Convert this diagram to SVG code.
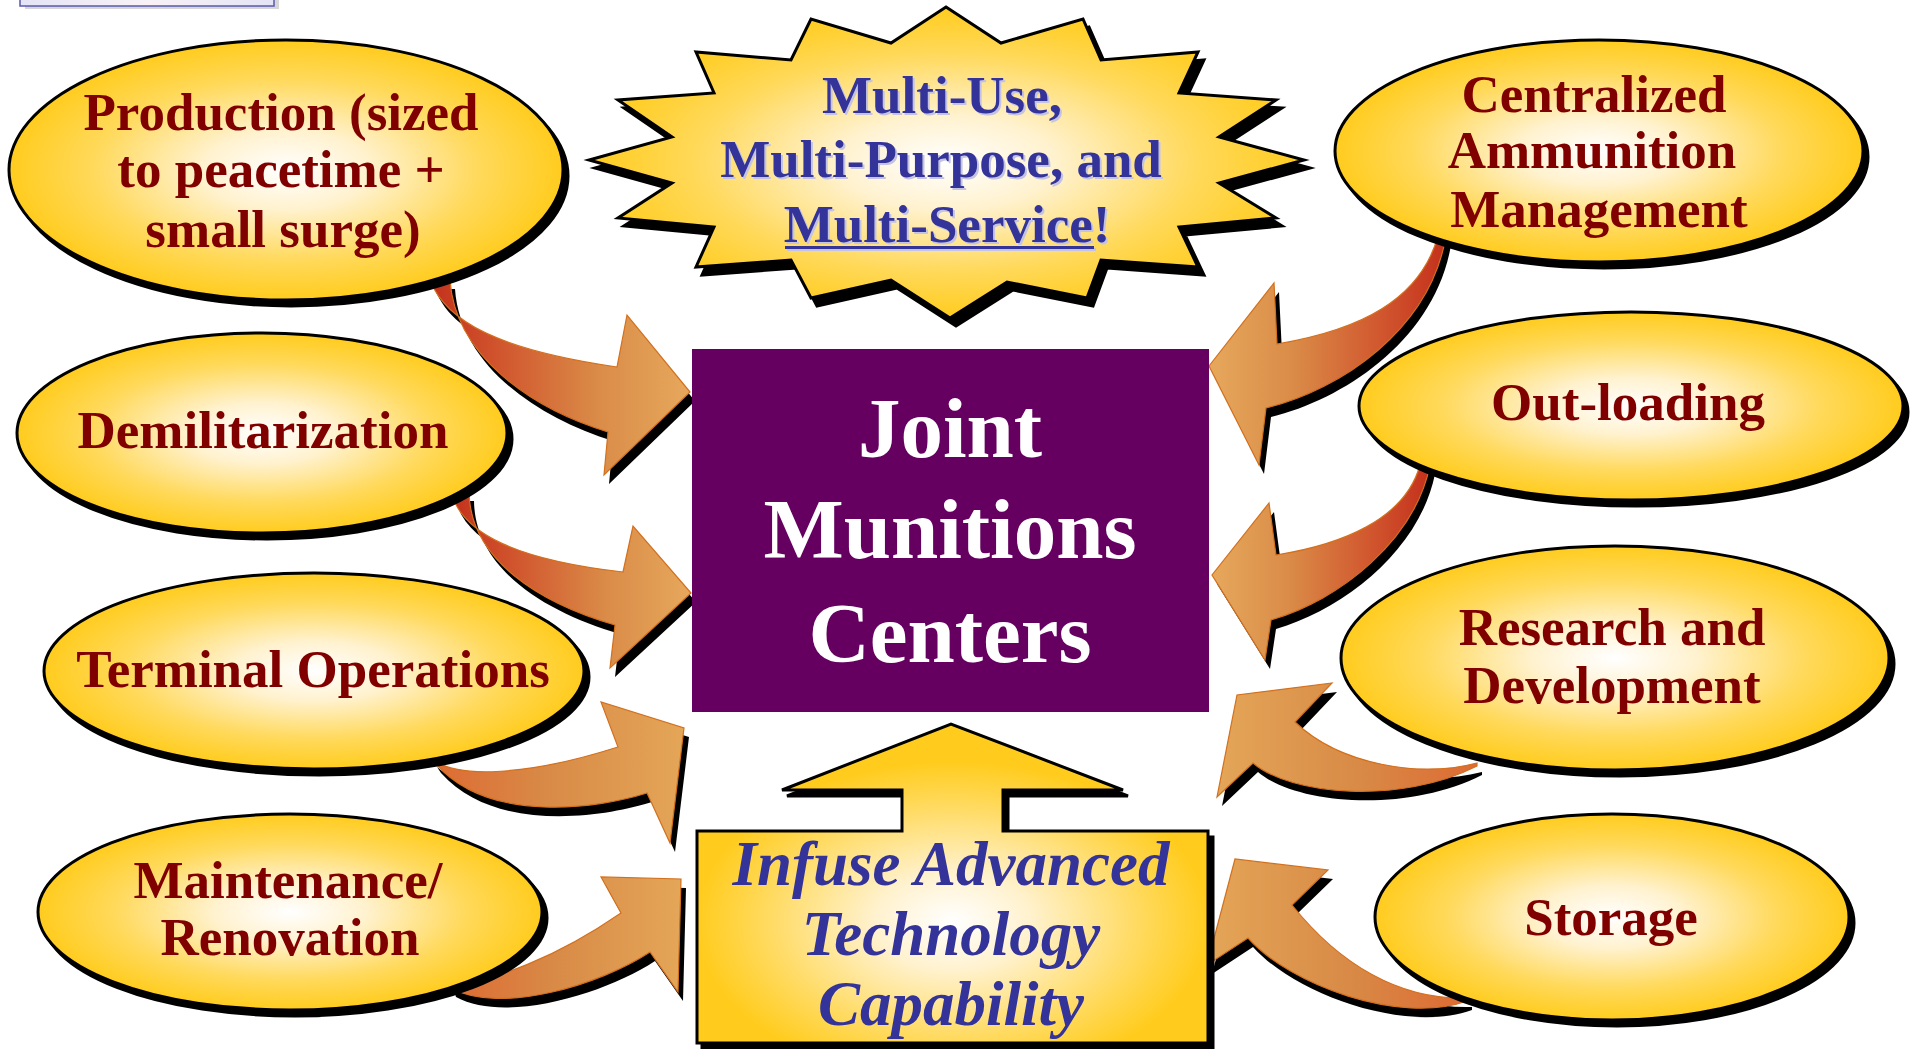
<svg xmlns="http://www.w3.org/2000/svg" xmlns:xlink="http://www.w3.org/1999/xlink" width="1911" height="1049" viewBox="0 0 1911 1049">
<style>
.t{font-family:"Liberation Serif","Times New Roman",serif;font-weight:bold;text-anchor:middle}
.lbl{font-size:53px;fill:#800000}
.st{font-size:53px;fill:#333399}
.stsh{font-size:53px;fill:#C4C4E2}
.jmc{font-size:85px;fill:#FFFFFF}
.inf{font-size:63px;font-style:italic;fill:#333399}
.ell{fill:url(#gEll);stroke:#000;stroke-width:3}
.sh{fill:#000;stroke:#000;stroke-width:3}
.ash{fill:#000}
.aL{fill:url(#gAL);stroke:#D2701E;stroke-width:1.2}
.aR{fill:url(#gAR);stroke:#D2701E;stroke-width:1.2}
.aL2{fill:url(#gAL2);stroke:#D2701E;stroke-width:1.2}
.aR2{fill:url(#gAR2);stroke:#D2701E;stroke-width:1.2}
</style>
<defs>
<radialGradient id="gEll" cx="0.5" cy="0.5" r="0.5">
<stop offset="0" stop-color="#FFFFFF"/>
<stop offset="0.3" stop-color="#FFF2CF"/>
<stop offset="0.7" stop-color="#FFD95A"/>
<stop offset="1" stop-color="#FFCC1E"/>
</radialGradient>
<radialGradient id="gInf" cx="0.5" cy="0.62" r="0.5">
<stop offset="0" stop-color="#FFFFFF"/>
<stop offset="0.3" stop-color="#FFF2CF"/>
<stop offset="0.75" stop-color="#FFD95A"/>
<stop offset="1" stop-color="#FFCC1E"/>
</radialGradient>
<linearGradient id="gAL" x1="0" y1="0" x2="1" y2="0">
<stop offset="0" stop-color="#C4301C"/>
<stop offset="0.3" stop-color="#D25A30"/>
<stop offset="0.65" stop-color="#DA8C48"/>
<stop offset="1" stop-color="#E6A85C"/>
</linearGradient>
<linearGradient id="gAR" x1="1" y1="0" x2="0" y2="0">
<stop offset="0" stop-color="#C4301C"/>
<stop offset="0.3" stop-color="#D25A30"/>
<stop offset="0.65" stop-color="#DA8C48"/>
<stop offset="1" stop-color="#E6A85C"/>
</linearGradient>
<linearGradient id="gAL2" x1="0" y1="0" x2="1" y2="0">
<stop offset="0" stop-color="#DE6A34"/>
<stop offset="0.45" stop-color="#D88A46"/>
<stop offset="1" stop-color="#E4A658"/>
</linearGradient>
<linearGradient id="gAR2" x1="1" y1="0" x2="0" y2="0">
<stop offset="0" stop-color="#DE6A34"/>
<stop offset="0.45" stop-color="#D88A46"/>
<stop offset="1" stop-color="#E4A658"/>
</linearGradient>
<linearGradient id="gStrip" x1="0" y1="0" x2="1" y2="0">
<stop offset="0" stop-color="#E4E4F6"/>
<stop offset="0.5" stop-color="#F8F2F6"/>
<stop offset="1" stop-color="#E4E4F6"/>
</linearGradient>
<path id="p1" d="M430,280 C446,322 500,350 617,367 L627,315 L690,392 L604,475 L608,432 C530,408 455,355 450,280 Z"/>
<path id="p2" d="M451,492 C462,535 520,560 623,572 L633,526 L691,593 L610,668 L615,625 C540,603 470,560 469,492 Z"/>
<path id="p3" d="M432,758 C455,780 530,775 618,747 L601,702 L684,728 L670,843 L647,793 C600,808 490,825 436,764 Z"/>
<path id="p4" d="M449,982 C490,985 560,955 621,913 L601,877 L681,879 L678,992 L650,952 C600,985 500,1015 451,988 Z"/>
<path id="p5" d="M1438,236 C1420,300 1360,330 1277,344 L1274,283 L1209,366 L1259,465 L1266,408 C1340,390 1430,330 1446,236 Z"/>
<path id="p6" d="M1420,465 C1405,520 1340,545 1276,555 L1269,503 L1212,575 L1265,660 L1271,620 C1340,600 1415,540 1430,465 Z"/>
<path id="p7" d="M1477,763 C1420,778 1340,765 1295,722 L1332,683 L1237,695 L1217,797 L1253,763 C1290,795 1400,805 1477,766 Z"/>
<path id="p8" d="M1467,998 C1400,1000 1340,965 1292,905 L1328,870 L1235,859 L1207,965 L1248,938 C1290,985 1400,1025 1467,1001 Z"/>
</defs>

<rect width="1911" height="1049" fill="#FFFFFF"/>

<g id="strip">
<rect x="25" y="-10" width="254" height="19" fill="#D6D6D6"/>
<rect x="20" y="-12" width="254" height="18" fill="url(#gStrip)" stroke="#5A5AB0" stroke-width="1.5"/>
</g>

<g id="connectors">
<g id="arrow-production">
<use xlink:href="#p1" class="ash" transform="translate(5,9)"/>
<use xlink:href="#p1" class="aL"/>
</g>
<g id="arrow-demil">
<use xlink:href="#p2" class="ash" transform="translate(5,9)"/>
<use xlink:href="#p2" class="aL"/>
</g>
<g id="arrow-terminal">
<use xlink:href="#p3" class="ash" transform="translate(5,9)"/>
<use xlink:href="#p3" class="aL2"/>
</g>
<g id="arrow-maintenance">
<use xlink:href="#p4" class="ash" transform="translate(5,9)"/>
<use xlink:href="#p4" class="aL2"/>
</g>
<g id="arrow-centralized">
<use xlink:href="#p5" class="ash" transform="translate(5,9)"/>
<use xlink:href="#p5" class="aR"/>
</g>
<g id="arrow-outloading">
<use xlink:href="#p6" class="ash" transform="translate(5,9)"/>
<use xlink:href="#p6" class="aR"/>
</g>
<g id="arrow-rnd">
<use xlink:href="#p7" class="ash" transform="translate(5,9)"/>
<use xlink:href="#p7" class="aR2"/>
</g>
<g id="arrow-storage">
<use xlink:href="#p8" class="ash" transform="translate(5,9)"/>
<use xlink:href="#p8" class="aR2"/>
</g>
</g>

<g id="node-production">
<ellipse class="sh" cx="291" cy="176" rx="277" ry="130"/>
<ellipse class="ell" cx="286" cy="170" rx="277" ry="130"/>
<text class="t lbl" x="281" y="130">Production (sized</text>
<text class="t lbl" x="281" y="187">to peacetime +</text>
<text class="t lbl" x="283" y="247">small surge)</text>
</g>

<g id="node-demilitarization">
<ellipse class="sh" cx="267" cy="439" rx="245" ry="100"/>
<ellipse class="ell" cx="262" cy="433" rx="245" ry="100"/>
<text class="t lbl" x="263" y="448">Demilitarization</text>
</g>

<g id="node-terminal">
<ellipse class="sh" cx="319" cy="677" rx="270" ry="98"/>
<ellipse class="ell" cx="314" cy="671" rx="270" ry="98"/>
<text class="t lbl" x="313" y="687">Terminal Operations</text>
</g>

<g id="node-maintenance">
<ellipse class="sh" cx="295" cy="918" rx="252" ry="98"/>
<ellipse class="ell" cx="290" cy="912" rx="252" ry="98"/>
<text class="t lbl" x="288" y="898">Maintenance/</text>
<text class="t lbl" x="290" y="955">Renovation</text>
</g>

<g id="node-centralized">
<ellipse class="sh" cx="1604" cy="157" rx="264" ry="111"/>
<ellipse class="ell" cx="1599" cy="151" rx="264" ry="111"/>
<text class="t lbl" x="1594" y="112">Centralized</text>
<text class="t lbl" x="1592" y="168">Ammunition</text>
<text class="t lbl" x="1599" y="227">Management</text>
</g>

<g id="node-outloading">
<ellipse class="sh" cx="1636" cy="412" rx="272" ry="94"/>
<ellipse class="ell" cx="1631" cy="406" rx="272" ry="94"/>
<text class="t lbl" x="1628" y="420">Out-loading</text>
</g>

<g id="node-rnd">
<ellipse class="sh" cx="1620" cy="664" rx="274" ry="112"/>
<ellipse class="ell" cx="1615" cy="658" rx="274" ry="112"/>
<text class="t lbl" x="1612" y="645">Research and</text>
<text class="t lbl" x="1612" y="703">Development</text>
</g>

<g id="node-storage">
<ellipse class="sh" cx="1617" cy="923" rx="237" ry="103"/>
<ellipse class="ell" cx="1612" cy="917" rx="237" ry="103"/>
<text class="t lbl" x="1611" y="935">Storage</text>
</g>

<g id="node-multi">
<polygon class="sh" transform="translate(6,8)" points="946,7 1001,43 1083,19 1101,60 1198,52 1179,93 1276,100 1219,137 1304,160 1219,183 1276,218 1179,227 1198,267 1101,260 1087,298 1007,282 950,318 891,280 811,298 791,260 696,267 714,227 618,218 672,183 589,160 672,137 618,100 714,93 696,52 791,60 811,19 891,43"/>
<polygon fill="url(#gEll)" stroke="#000" stroke-width="3" points="946,7 1001,43 1083,19 1101,60 1198,52 1179,93 1276,100 1219,137 1304,160 1219,183 1276,218 1179,227 1198,267 1101,260 1087,298 1007,282 950,318 891,280 811,298 791,260 696,267 714,227 618,218 672,183 589,160 672,137 618,100 714,93 696,52 791,60 811,19 891,43"/>
<g transform="translate(2,2)">
<text class="t stsh" x="942" y="113">Multi-Use,</text>
<text class="t stsh" x="941" y="177">Multi-Purpose, and</text>
<text class="t stsh" x="947" y="242">Multi-Service!</text>
<rect x="785" y="246" width="309" height="3" fill="#C4C4E2"/>
</g>
<text class="t st" x="942" y="113">Multi-Use,</text>
<text class="t st" x="941" y="177">Multi-Purpose, and</text>
<text class="t st" x="947" y="242">Multi-Service!</text>
<rect x="785" y="246" width="309" height="3" fill="#333399"/>
</g>

<g id="node-jmc">
<rect x="692" y="349" width="517" height="363" fill="#650060"/>
<text class="t jmc" x="950" y="457">Joint</text>
<text class="t jmc" x="950" y="558">Munitions</text>
<text class="t jmc" x="950" y="662">Centers</text>
</g>

<g id="node-infuse">
<path class="sh" transform="translate(5,6)" d="M697,831 L902,831 L902,790 L782,790 L951,724 L1123,790 L1003,790 L1003,831 L1208,831 L1208,1043 L697,1043 Z"/>
<path fill="url(#gInf)" stroke="#000" stroke-width="3" stroke-linejoin="miter" d="M697,831 L902,831 L902,790 L782,790 L951,724 L1123,790 L1003,790 L1003,831 L1208,831 L1208,1043 L697,1043 Z"/>
<text class="t inf" x="951" y="885">Infuse Advanced</text>
<text class="t inf" x="951" y="955">Technology</text>
<text class="t inf" x="951" y="1025">Capability</text>
</g>
</svg>
